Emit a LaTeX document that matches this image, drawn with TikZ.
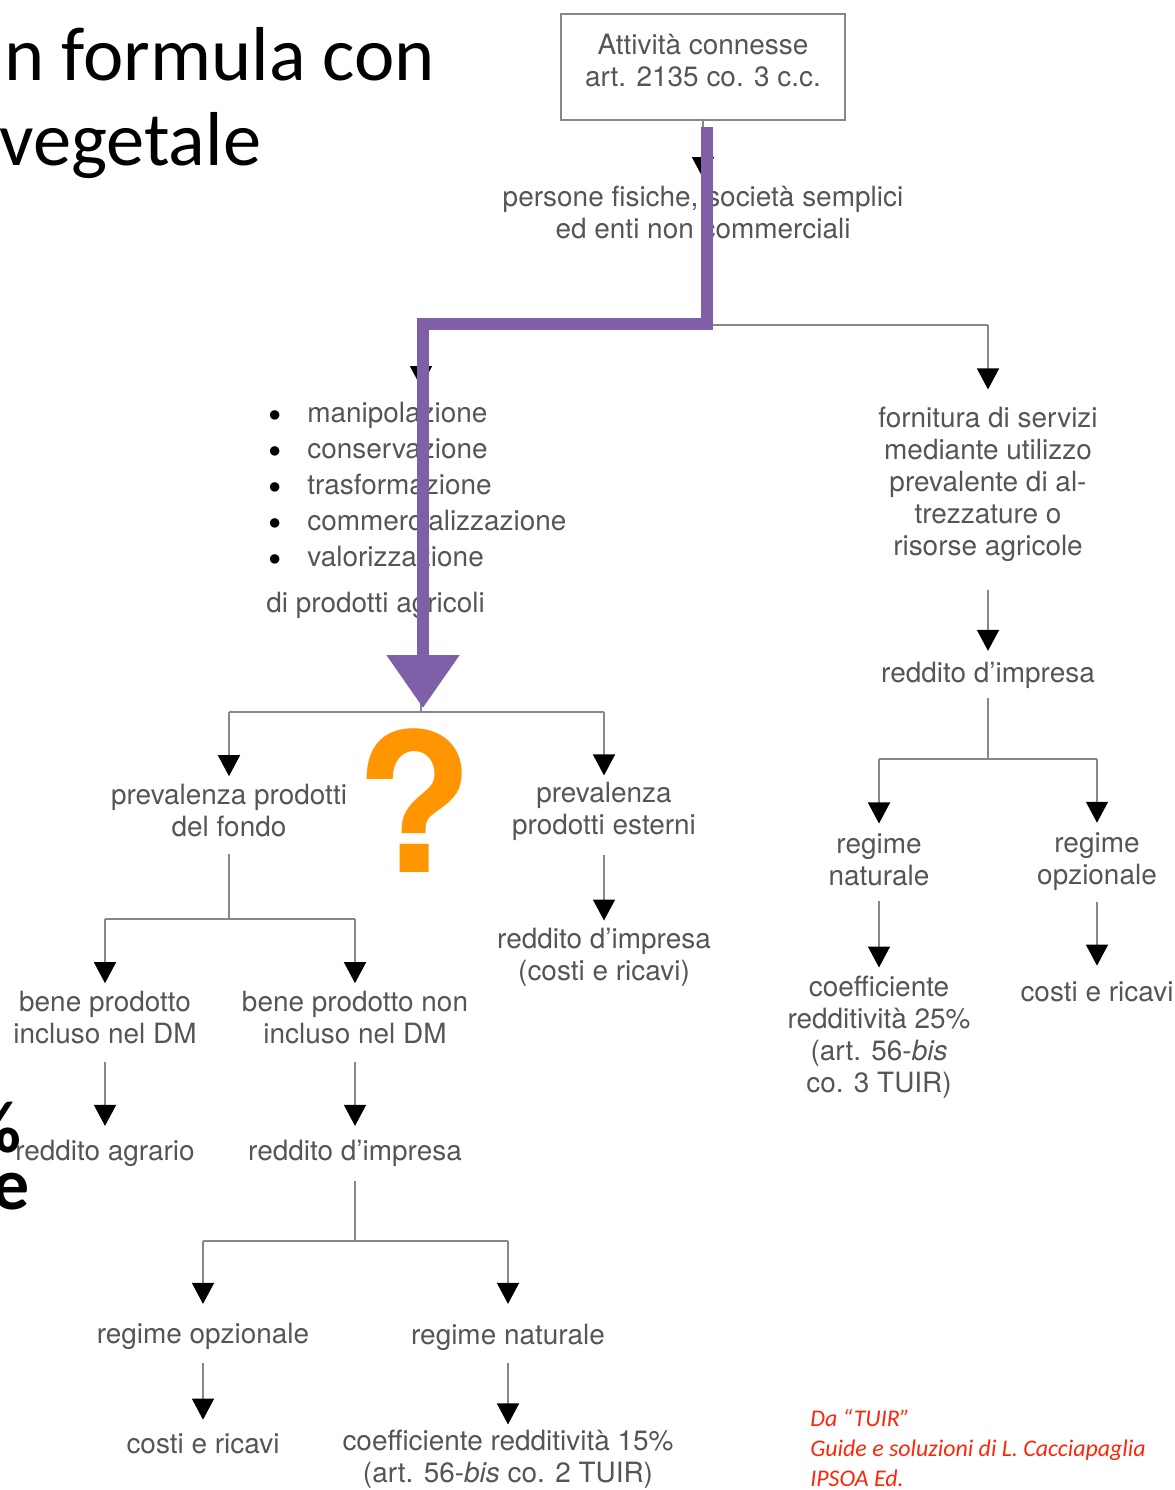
\documentclass[tikz,border=0pt]{standalone}
\usepackage{fontspec}
\setmainfont{TeX Gyre Heros}
\newfontfamily\calibri{Carlito}
\usetikzlibrary{arrows.meta,calc}
\definecolor{txtgray}{RGB}{85,85,85}
\definecolor{lngray}{RGB}{135,135,135}
\definecolor{purp}{RGB}{127,96,168}
\definecolor{qorange}{RGB}{255,149,0}
\definecolor{credred}{RGB}{250,40,10}
\newcommand\tstrut{\rule[-0.144\baselineskip]{0pt}{\baselineskip}}
\newcommand\bul{\makebox[0.82cm][l]{\hspace{0.05cm}\raisebox{-0.124cm}{\fontsize{21.6pt}{22pt}\selectfont\textcolor{black}{\textbullet}}}}
\begin{document}
\begin{tikzpicture}[x=0.02cm,y=-0.02cm,
  txt/.style={font=\fontsize{15.9pt}{18.2pt}\selectfont, text=txtgray, align=center, inner sep=0pt,
    execute at begin node=\tstrut, execute at end node=\tstrut},
  listst/.style={font=\fontsize{15.9pt}{20.5pt}\selectfont, text=txtgray, align=left, inner sep=0pt,
    execute at begin node=\tstrut, execute at end node=\tstrut},
  ln/.style={draw=lngray, line width=0.85pt},
  arr/.style={ln, -{Triangle[width=0.44cm,length=0.42cm,color=black]}},
  boxst/.style={draw=lngray, line width=0.85pt, minimum width=5.68cm, minimum height=2.12cm, inner sep=0pt},
  title/.style={font=\calibri\fontsize{43.5pt}{51pt}\selectfont, text=black, inner sep=0pt, anchor=base west},
  bigbold/.style={font=\calibri\bfseries\fontsize{42pt}{50pt}\selectfont, text=black, inner sep=0pt, anchor=base west},
  credit/.style={font=\calibri\itshape\fontsize{13.6pt}{17pt}\selectfont, text=credred, align=left, inner sep=0pt, anchor=north west},
  purparr/.style={draw=purp, line width=0.24cm, -{Triangle[width=1.4cm,length=1.06cm,color=purp]}}
]
\useasboundingbox (0,0) rectangle (1175,1490);

% slide text behind
\node[title] (t1) at (-13.5,81) {in formula con};
\node[title] (t2) at (-1,166) {vegetale};
\node[bigbold] (pc) at (-33,1152) {\%};
\node[bigbold] (ee) at (-8,1209) {e};

% top box
\node[boxst] (box) at (703,67) {};
\node[txt] (boxt) at (703,63) {Attività connesse\\art. 2135 co. 3 c.c.};

\node[txt] (per) at (703,214.5) {persone fisiche, società semplici\\ed enti non commerciali};

\coordinate (s1) at (703,325);
\coordinate (s1L) at (421,325);
\coordinate (s1R) at (988,325);

\node[listst, anchor=north west] (list) at (266,402) {%
\bul manipolazione\\
\bul conservazione\\
\bul trasformazione\\
\bul commercializzazione\\
\bul valorizzazione\\[0.2cm]
di prodotti agricoli};

\node[txt] (forn) at (988,484) {fornitura di servizi\\mediante utilizzo\\prevalente di al-\\trezzature o\\risorse agricole};
\node[txt] (rimp) at (988,672) {reddito d’impresa};
\coordinate (s5) at (988,759);
\coordinate (s5L) at (879,759);
\coordinate (s5R) at (1097,759);
\node[txt] (regN) at (879,862) {regime\\naturale};
\node[txt] (regO) at (1097,862) {regime\\opzionale};
\node[txt] (coef) at (879,1037) {coefficiente\\redditività 25\%\\(art. 56-\textit{bis}\\co. 3 TUIR)};
\node[txt] (cr2) at (1097,990) {costi e ricavi};

\coordinate (s2) at (421,712);
\coordinate (s2L) at (229,712);
\coordinate (s2R) at (604,712);
\node[txt] (pf) at (229,812.5) {prevalenza prodotti\\del fondo};
\node[txt] (pe) at (604,811.5) {prevalenza\\prodotti esterni};
\node[txt] (rice) at (604,957) {reddito d’impresa\\(costi e ricavi)};

\coordinate (s3) at (229,919);
\coordinate (s3L) at (105,919);
\coordinate (s3R) at (355,919);
\node[txt] (bp1) at (105,1019.5) {bene prodotto\\incluso nel DM};
\node[txt] (bp2) at (355,1019.5) {bene prodotto non\\incluso nel DM};
\node[txt] (ra) at (105,1150) {reddito agrario};
\node[txt] (ri) at (355,1150) {reddito d’impresa};

\coordinate (s4) at (355,1241);
\coordinate (s4L) at (203,1241);
\coordinate (s4R) at (508,1241);
\node[txt] (ro) at (203,1333) {regime opzionale};
\node[txt] (rn) at (508,1334) {regime naturale};
\node[txt] (cr1) at (203,1442) {costi e ricavi};
\node[txt] (c15) at (508,1459.5) {coefficiente redditività 15\%\\(art. 56-\textit{bis} co. 2 TUIR)};

% connectors
\draw[arr, shorten >=0.15cm] (box.south) -- (per.north);
\draw[ln, shorten <=0.11cm] (per.south) -- (s1);
\draw[ln] (s1L) -- (s1R);
\draw[arr, shorten >=0.3cm] (s1L) -- (s1L |- list.north);
\draw[arr, shorten >=0.34cm] (s1R) -- (forn.north);

\draw[arr, shorten <=0.56cm, shorten >=0.08cm] (forn.south) -- (rimp.north);
\draw[ln, shorten <=0.18cm] (rimp.south) -- (s5);
\draw[ln] (s5L) -- (s5R);
\draw[arr, shorten >=0.2cm] (s5L) -- (regN.north);
\draw[arr, shorten >=0.2cm] (s5R) -- (regO.north);
\draw[arr, shorten <=0.2cm, shorten >=0.16cm] (regN.south) -- (coef.north);
\draw[arr, shorten <=0.22cm, shorten >=0.16cm] (regO.south) -- (cr2.north);

\draw[ln, shorten <=0.2cm] (list.south -| s2) -- (s2);
\draw[ln] (s2L) -- (s2R);
\draw[arr, shorten >=0.15cm] (s2L) -- (pf.north);
\draw[arr, shorten >=0.13cm] (s2R) -- (pe.north);
\draw[arr, shorten <=0.27cm, shorten >=0.14cm] (pe.south) -- (rice.north);

\draw[ln, shorten <=0.25cm] (pf.south) -- (s3);
\draw[ln] (s3L) -- (s3R);
\draw[arr, shorten >=0.15cm] (s3L) -- (bp1.north);
\draw[arr, shorten >=0.15cm] (s3R) -- (bp2.north);
\draw[arr, shorten <=0.27cm, shorten >=0.14cm] (bp1.south) -- (ra.north);
\draw[arr, shorten <=0.27cm, shorten >=0.14cm] (bp2.south) -- (ri.north);

\draw[ln, shorten <=0.28cm] (ri.south) -- (s4);
\draw[ln] (s4L) -- (s4R);
\draw[arr, shorten >=0.24cm] (s4L) -- (ro.north);
\draw[arr, shorten >=0.26cm] (s4R) -- (rn.north);
\draw[arr, shorten <=0.26cm, shorten >=0.12cm] (ro.south) -- (cr1.north);
\draw[arr, shorten <=0.24cm, shorten >=0.11cm] (rn.south) -- (c15.north);

% orange question mark
\node[font=\bfseries\fontsize{110pt}{110pt}\selectfont, text=qorange, inner sep=0pt, anchor=base] (qm) at (415,872) {?};

% purple highlight arrow
\coordinate (pA) at (707,127);
\coordinate (pB) at (707,324);
\coordinate (pC) at (423,324);
\coordinate (pD) at (423,708);
\draw[purparr] (pA) -- (pB) -- (pC) -- (pD);

% credit
\node[credit] (cred) at (810,1405) {\strut Da “TUIR”\\Guide e soluzioni di L. Cacciapaglia\\IPSOA Ed.\strut};
\end{tikzpicture}
\end{document}
